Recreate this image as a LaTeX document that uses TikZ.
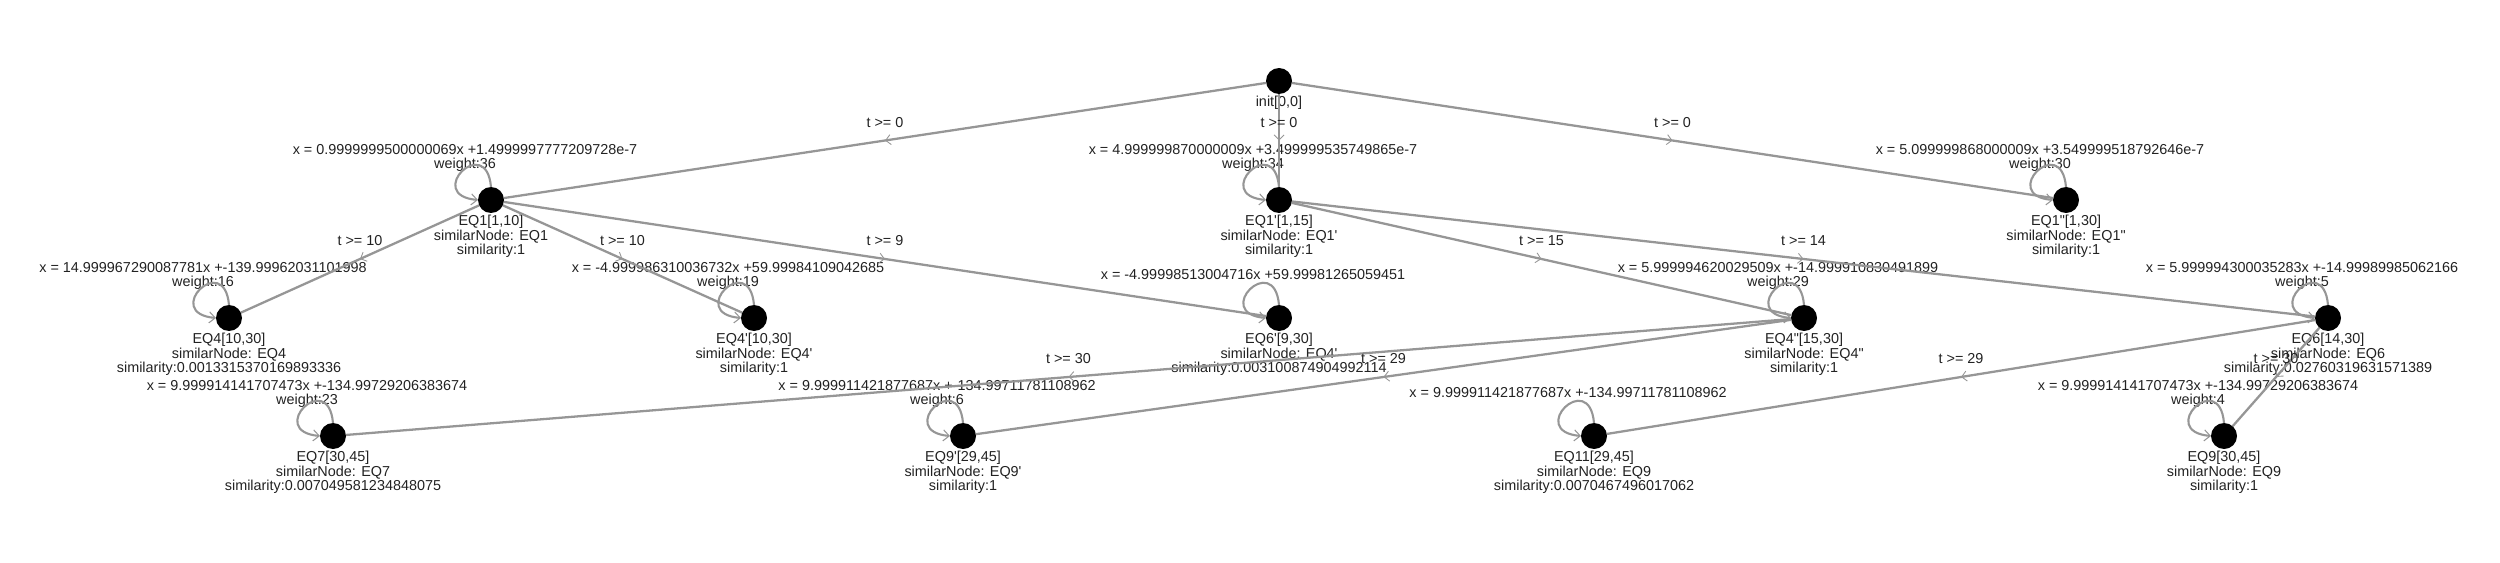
\documentclass[tikz,border=0pt]{standalone}
\usepackage{fontspec}
\setmainfont{Liberation Sans}
\usetikzlibrary{positioning,arrows.meta,decorations.markings}

\definecolor{edgegray}{RGB}{150,150,150}
\definecolor{textgray}{RGB}{34,34,34}

\tikzstyle{state}=[circle, fill=black, minimum size=0.52cm, inner sep=0pt, outer sep=0pt]
\tikzstyle{info}=[align=center, inner sep=0pt, text=textgray, font=\fontsize{8.2pt}{8.3pt}\selectfont]
\tikzstyle{eqtext}=[info, xshift=-0.52cm]
\tikzstyle{guard}=[inner sep=0pt, text=textgray, font=\fontsize{8.2pt}{8.3pt}\selectfont]
\tikzstyle{trans}=[edgegray, line width=1.3pt, postaction={decorate, decoration={markings, mark=at position 0.5 with {\arrow{Straight Barb[length=0.1cm, width=0.2cm, line width=0.5pt]}}}}]
\tikzstyle{selfloop}=[edgegray, line width=1.2pt, -{Straight Barb[length=0.12cm, width=0.22cm, line width=0.6pt]}]

\begin{document}
\begin{tikzpicture}[x=0.02cm, y=0.02cm]
  \useasboundingbox (0,0) rectangle (2500,562);

  % states
  \node[state] (init) at (1279, 481) {};
  \node[state] (eq1) at (491, 362) {};
  \node[state] (eq1p) at (1279, 362) {};
  \node[state] (eq1pp) at (2066, 362) {};
  \node[state] (eq4) at (229, 244) {};
  \node[state] (eq4p) at (754, 244) {};
  \node[state] (eq6p) at (1279, 244) {};
  \node[state] (eq4pp) at (1804, 244) {};
  \node[state] (eq6) at (2328, 244) {};
  \node[state] (eq7) at (333, 126) {};
  \node[state] (eq9p) at (963, 126) {};
  \node[state] (eq11) at (1594, 126) {};
  \node[state] (eq9) at (2224, 126) {};

  % texts below
  \node[info, below=0.04cm of init] (initinfo) {init[0,0]};
  \node[info, below=0.04cm of eq1] (eq1info) {EQ1[1,10]\\similarNode: EQ1\\similarity:1};
  \node[info, below=0.04cm of eq1p] (eq1pinfo) {EQ1\textquotesingle[1,15]\\similarNode: EQ1\textquotesingle\\similarity:1};
  \node[info, below=0.04cm of eq1pp] (eq1ppinfo) {EQ1\textquotedbl[1,30]\\similarNode: EQ1\textquotedbl\\similarity:1};
  \node[info, below=0.04cm of eq4] (eq4info) {EQ4[10,30]\\similarNode: EQ4\\similarity:0.0013315370169893336};
  \node[info, below=0.04cm of eq4p] (eq4pinfo) {EQ4\textquotesingle[10,30]\\similarNode: EQ4\textquotesingle\\similarity:1};
  \node[info, below=0.04cm of eq6p] (eq6pinfo) {EQ6\textquotesingle[9,30]\\similarNode: EQ4\textquotesingle\\similarity:0.003100874904992114};
  \node[info, below=0.04cm of eq4pp] (eq4ppinfo) {EQ4\textquotedbl[15,30]\\similarNode: EQ4\textquotedbl\\similarity:1};
  \node[info, below=0.04cm of eq6] (eq6info) {EQ6[14,30]\\similarNode: EQ6\\similarity:0.02760319631571389};
  \node[info, below=0.04cm of eq7] (eq7info) {EQ7[30,45]\\similarNode: EQ7\\similarity:0.007049581234848075};
  \node[info, below=0.04cm of eq9p] (eq9pinfo) {EQ9\textquotesingle[29,45]\\similarNode: EQ9\textquotesingle\\similarity:1};
  \node[info, below=0.04cm of eq11] (eq11info) {EQ11[29,45]\\similarNode: EQ9\\similarity:0.0070467496017062};
  \node[info, below=0.04cm of eq9] (eq9info) {EQ9[30,45]\\similarNode: EQ9\\similarity:1};

  % equations above
  \node[eqtext, above=0.3cm of eq1] (eq1eq) {x = 0.9999999500000069x +1.4999997777209728e-7\\weight:36};
  \node[eqtext, above=0.3cm of eq1p] (eq1peq) {x = 4.999999870000009x +3.499999535749865e-7\\weight:34};
  \node[eqtext, above=0.3cm of eq1pp] (eq1ppeq) {x = 5.099999868000009x +3.549999518792646e-7\\weight:30};
  \node[eqtext, above=0.3cm of eq4] (eq4eq) {x = 14.999967290087781x +-139.99962031101998\\weight:16};
  \node[eqtext, above=0.3cm of eq4p] (eq4peq) {x = -4.999986310036732x +59.99984109042685\\weight:19};
  \node[eqtext, above=0.5cm of eq6p] (eq6peq) {x = -4.99998513004716x +59.99981265059451};
  \node[eqtext, above=0.3cm of eq4pp] (eq4ppeq) {x = 5.999994620029509x +-14.999910830491899\\weight:29};
  \node[eqtext, above=0.3cm of eq6] (eq6eq) {x = 5.999994300035283x +-14.99989985062166\\weight:5};
  \node[eqtext, above=0.3cm of eq7] (eq7eq) {x = 9.999914141707473x +-134.99729206383674\\weight:23};
  \node[eqtext, above=0.3cm of eq9p] (eq9peq) {x = 9.999911421877687x +-134.99711781108962\\weight:6};
  \node[eqtext, above=0.5cm of eq11] (eq11eq) {x = 9.999911421877687x +-134.99711781108962};
  \node[eqtext, above=0.3cm of eq9] (eq9eq) {x = 9.999914141707473x +-134.99729206383674\\weight:4};

  % transitions
  \draw[trans] (init) -- node[guard, above=0.24cm] (g1) {t >= 0} (eq1);
  \draw[trans] (init) -- node[guard, above=0.24cm] (g2) {t >= 0} (eq1p);
  \draw[trans] (init) -- node[guard, above=0.24cm] (g3) {t >= 0} (eq1pp);
  \draw[trans] (eq1) -- node[guard, above=0.24cm] (g4) {t >= 10} (eq4);
  \draw[trans] (eq1) -- node[guard, above=0.24cm] (g5) {t >= 10} (eq4p);
  \draw[trans] (eq1) -- node[guard, above=0.24cm] (g6) {t >= 9} (eq6p);
  \draw[trans] (eq1p) -- node[guard, above=0.24cm] (g7) {t >= 15} (eq4pp);
  \draw[trans] (eq1p) -- node[guard, above=0.24cm] (g8) {t >= 14} (eq6);
  \draw[trans] (eq4pp) -- node[guard, above=0.24cm] (g9) {t >= 30} (eq7);
  \draw[trans] (eq4pp) -- node[guard, above=0.24cm] (g10) {t >= 29} (eq9p);
  \draw[trans] (eq6) -- node[guard, above=0.24cm] (g11) {t >= 29} (eq11);
  \draw[trans] (eq6) -- node[guard, above=0.24cm] (g12) {t >= 30} (eq9);

  % self loops
  \draw[selfloop] (eq1.north) .. controls +(95:1.1cm) and +(175:1.1cm) .. (eq1.west);
  \draw[selfloop] (eq1p.north) .. controls +(95:1.1cm) and +(175:1.1cm) .. (eq1p.west);
  \draw[selfloop] (eq1pp.north) .. controls +(95:1.1cm) and +(175:1.1cm) .. (eq1pp.west);
  \draw[selfloop] (eq4.north) .. controls +(95:1.1cm) and +(175:1.1cm) .. (eq4.west);
  \draw[selfloop] (eq4p.north) .. controls +(95:1.1cm) and +(175:1.1cm) .. (eq4p.west);
  \draw[selfloop] (eq6p.north) .. controls +(95:1.1cm) and +(175:1.1cm) .. (eq6p.west);
  \draw[selfloop] (eq4pp.north) .. controls +(95:1.1cm) and +(175:1.1cm) .. (eq4pp.west);
  \draw[selfloop] (eq6.north) .. controls +(95:1.1cm) and +(175:1.1cm) .. (eq6.west);
  \draw[selfloop] (eq7.north) .. controls +(95:1.1cm) and +(175:1.1cm) .. (eq7.west);
  \draw[selfloop] (eq9p.north) .. controls +(95:1.1cm) and +(175:1.1cm) .. (eq9p.west);
  \draw[selfloop] (eq11.north) .. controls +(95:1.1cm) and +(175:1.1cm) .. (eq11.west);
  \draw[selfloop] (eq9.north) .. controls +(95:1.1cm) and +(175:1.1cm) .. (eq9.west);
\end{tikzpicture}
\end{document}
